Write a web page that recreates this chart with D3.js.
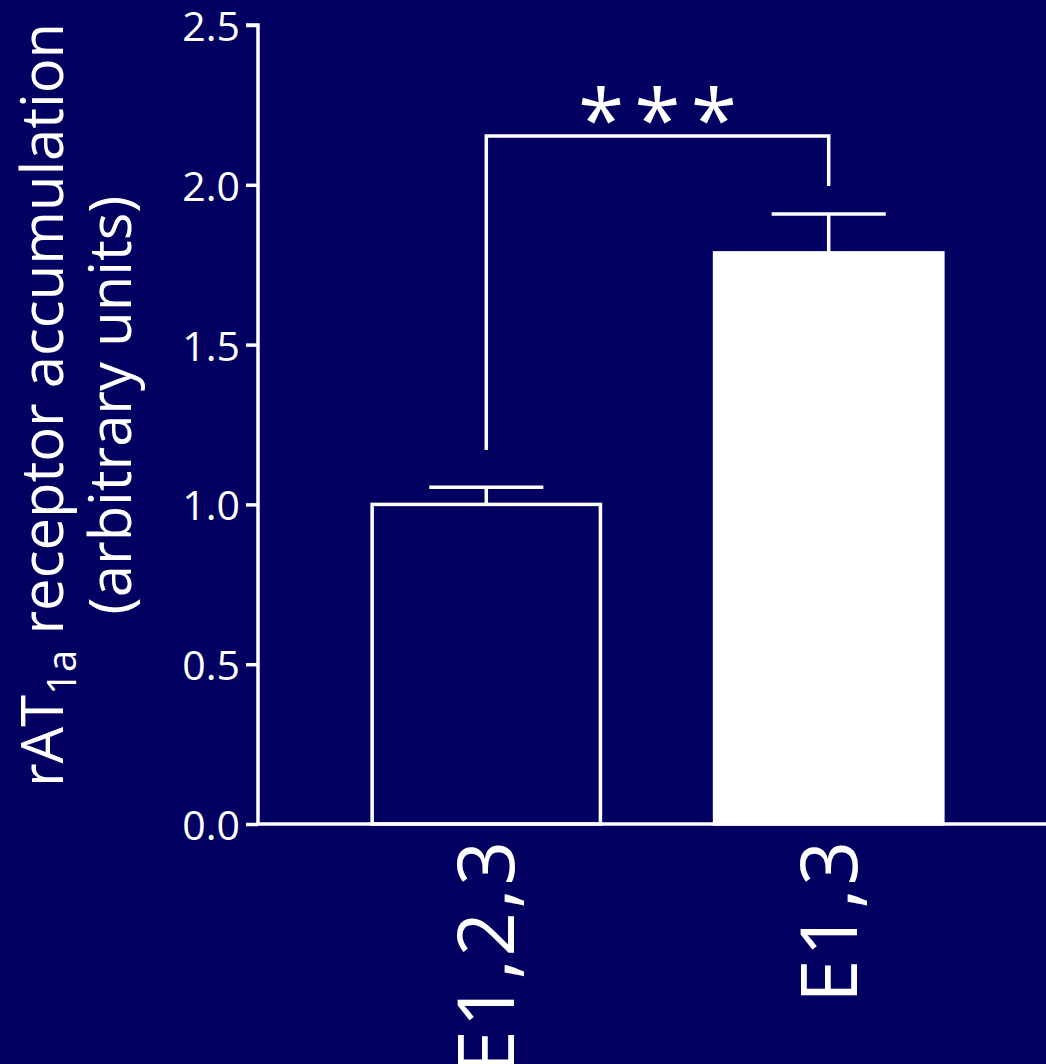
<!DOCTYPE html>
<html>
<head>
<meta charset="utf-8">
<script src="https://cdn.jsdelivr.net/npm/d3@7"></script>
<style>
  html, body { margin: 0; padding: 0; background: #020060; }
  svg { display: block; }
  text { font-family: "Open Sans", "Noto Sans", sans-serif; fill: #fff; }
</style>
</head>
<body>
<script>
// Groups and measured means with SEM
const categories = ["E1,2,3", "E1,3"];
const means = [1.0, 1.787];
const errors = [0.054, 0.122];
const fills = ["none", "#ffffff"];
const yTicks = [0, 0.5, 1.0, 1.5, 2.0, 2.5];
const sigLabel = "***";
const bracketTop = 2.153;
const bracketLegs = [1.17, 1.996];

const W = 1046, H = 1064;
const bg = "#020060";

const svg = d3.select("body").append("svg")
  .attr("width", W).attr("height", H)
  .style("background", bg);

const xAxisLeft = 258, plotRight = 1046;
const y = d3.scaleLinear().domain([0, 2.5]).range([824, 25]);
const x = d3.scaleBand().domain(categories)
  .range([258, 1057]).paddingInner(1 / 3).paddingOuter(1 / 3);

// Bars
svg.selectAll("rect.bar").data(categories).join("rect")
  .attr("class", "bar")
  .attr("x", d => x(d))
  .attr("y", (d, i) => y(means[i]))
  .attr("width", x.bandwidth())
  .attr("height", (d, i) => y(0) - y(means[i]))
  .attr("fill", (d, i) => fills[i])
  .attr("stroke", "#fff")
  .attr("stroke-width", 3.5);

// Error bars (upper only)
const capHalf = x.bandwidth() / 4;
categories.forEach((c, i) => {
  const cx = x(c) + x.bandwidth() / 2;
  svg.append("line")
    .attr("x1", cx).attr("x2", cx)
    .attr("y1", y(means[i])).attr("y2", y(means[i] + errors[i]))
    .attr("stroke", "#fff").attr("stroke-width", 3.5);
  svg.append("line")
    .attr("x1", cx - capHalf).attr("x2", cx + capHalf)
    .attr("y1", y(means[i] + errors[i])).attr("y2", y(means[i] + errors[i]))
    .attr("stroke", "#fff").attr("stroke-width", 3.5);
});

// Y axis
const yAxis = d3.axisLeft(y).tickValues(yTicks)
  .tickFormat(d3.format(".1f")).tickSize(12).tickPadding(6);
const gy = svg.append("g").attr("transform", `translate(${xAxisLeft},0)`).call(yAxis);
gy.select(".domain").attr("stroke", "#fff").attr("stroke-width", 3.5)
  .attr("d", `M-12,${y(2.5)}H0V${y(0)}`);
gy.selectAll(".tick line").attr("stroke", "#fff").attr("stroke-width", 3.5);
gy.selectAll(".tick text").attr("fill", "#fff")
  .style("font-size", "41px").attr("dy", "0.38em");

// X axis baseline
svg.append("line")
  .attr("x1", xAxisLeft).attr("x2", plotRight)
  .attr("y1", y(0)).attr("y2", y(0))
  .attr("stroke", "#fff").attr("stroke-width", 3.5);

// Category labels, rotated
categories.forEach(c => {
  const cx = x(c) + x.bandwidth() / 2;
  svg.append("text")
    .attr("transform", `translate(${cx},${838}) rotate(-90)`)
    .attr("text-anchor", "end")
    .attr("dy", "0.36em")
    .attr("letter-spacing", "3px")
    .style("font-size", "78px")
    .text(c);
});

// Significance bracket
const cx0 = x(categories[0]) + x.bandwidth() / 2;
const cx1 = x(categories[1]) + x.bandwidth() / 2;
svg.append("path")
  .attr("d", `M${cx0},${y(bracketLegs[0])}V${y(bracketTop)}H${cx1}V${y(bracketLegs[1])}`)
  .attr("fill", "none").attr("stroke", "#fff").attr("stroke-width", 3.5);
svg.append("text")
  .attr("x", (cx0 + cx1) / 2 + 5).attr("y", y(bracketTop) + 14)
  .attr("text-anchor", "middle")
  .style("font-size", "84px")
  .attr("letter-spacing", "10px")
  .text(sigLabel);

// Y axis title
const title = svg.append("g").attr("transform", "translate(0,405) rotate(-90)");
const t1 = title.append("text").attr("x", 0).attr("y", 63)
  .attr("text-anchor", "middle").style("font-size", "58px");
t1.append("tspan").text("rAT");
t1.append("tspan").attr("dy", 13).style("font-size", "40px").text("1a");
t1.append("tspan").attr("dy", -13).text(" receptor accumulation");
title.append("text").attr("x", 0).attr("y", 131)
  .attr("text-anchor", "middle").style("font-size", "58px")
  .text("(arbitrary units)");
</script>
</body>
</html>
